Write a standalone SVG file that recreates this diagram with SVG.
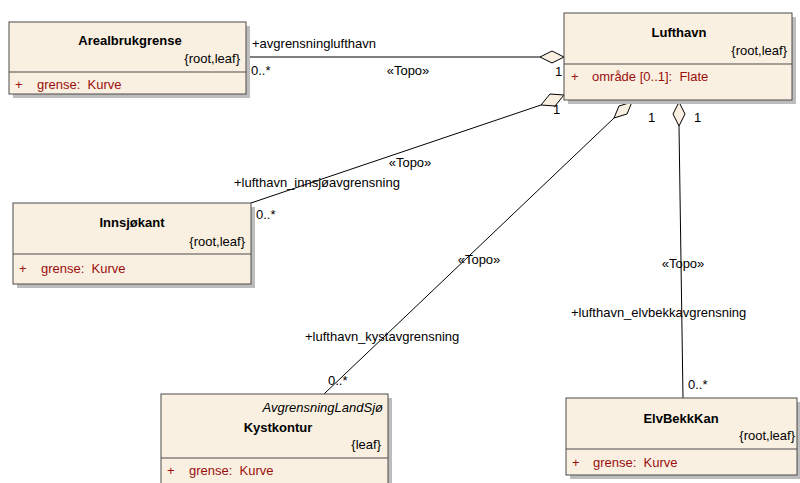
<svg xmlns="http://www.w3.org/2000/svg" width="800" height="483" viewBox="0 0 800 483" xml:space="preserve">
<style>
text{font-family:"Liberation Sans",Arial,sans-serif;font-size:13px;fill:#000;white-space:pre}
.t{font-weight:bold;text-anchor:middle}
.r{text-anchor:end}
.a{fill:#9B0E0E}
.i{font-style:italic}
.box{fill:#FAF0E1;stroke:#4A4A4A;stroke-width:1}
.sh{fill:#BDBDBD}
.ln{stroke:#000;stroke-width:1;fill:none}
.dv{stroke:#4A4A4A;stroke-width:1}
.dm{fill:#FAF0E1;stroke:#000;stroke-width:1}
</style>
<rect width="800" height="483" fill="#fff"/>
<g id="connectors">
  <line class="ln" x1="246" y1="57" x2="540" y2="57"/>
  <polygon class="dm" points="564,57 552,51 540,57 552,63"/>
  <text x="252" y="48">+avgrensninglufthavn</text>
  <text x="251" y="75">0..*</text>
  <text x="408" y="75" text-anchor="middle">«Topo»</text>
  <text x="555" y="76">1</text>

  <line class="ln" x1="251" y1="203" x2="541" y2="105"/>
  <polygon class="dm" points="564,95 550,94 541,105 555,106"/>
  <text x="410" y="167" text-anchor="middle">«Topo»</text>
  <text x="234" y="187">+lufthavn_innsjøavgrensning</text>
  <text x="256" y="219">0..*</text>
  <text x="553" y="114">1</text>

  <line class="ln" x1="324" y1="394" x2="614" y2="118"/>
  <polygon class="dm" points="632,102 619,106 614,118 627,114"/>
  <text x="479" y="264" text-anchor="middle">«Topo»</text>
  <text x="305" y="341">+lufthavn_kystavgrensning</text>
  <text x="328" y="385">0..*</text>
  <text x="648" y="122">1</text>

  <line class="ln" x1="679" y1="126" x2="683" y2="398"/>
  <polygon class="dm" points="679,102 685,114 679,126 673,114"/>
  <text x="683" y="268" text-anchor="middle">«Topo»</text>
  <text x="571" y="317">+lufthavn_elvbekkavgrensning</text>
  <text x="688" y="389">0..*</text>
  <text x="694" y="122">1</text>
</g>
<g id="Arealbrukgrense">
  <rect class="sh" x="13" y="26" width="237" height="72"/>
  <rect class="box" x="9" y="22" width="237" height="72"/>
  <line class="dv" x1="9" y1="72" x2="246" y2="72"/>
  <text class="t" x="130" y="45">Arealbrukgrense</text>
  <text class="r" x="240" y="63">{root,leaf}</text>
  <text class="a" x="15" y="89">+</text>
  <text class="a" x="37" y="89">grense:  Kurve</text>
</g>
<g id="Lufthavn">
  <rect class="sh" x="568" y="17" width="228" height="87"/>
  <rect class="box" x="564" y="13" width="228" height="87"/>
  <line class="dv" x1="564" y1="64" x2="792" y2="64"/>
  <text class="t" x="679" y="37">Lufthavn</text>
  <text class="r" x="787" y="55">{root,leaf}</text>
  <text class="a" x="571" y="81">+</text>
  <text class="a" x="592" y="81">område [0..1]:  Flate</text>
</g>
<g id="Innsjøkant">
  <rect class="sh" x="17" y="207" width="238" height="81"/>
  <rect class="box" x="13" y="203" width="238" height="81"/>
  <line class="dv" x1="13" y1="254" x2="251" y2="254"/>
  <text class="t" x="132" y="227">Innsjøkant</text>
  <text class="r" x="245" y="246">{root,leaf}</text>
  <text class="a" x="19" y="273">+</text>
  <text class="a" x="41" y="273">grense:  Kurve</text>
</g>
<g id="Kystkontur">
  <rect class="sh" x="165" y="398" width="227" height="90"/>
  <rect class="box" x="161" y="394" width="227" height="95"/>
  <line class="dv" x1="161" y1="458" x2="388" y2="458"/>
  <text class="r i" x="383" y="412">AvgrensningLandSjø</text>
  <text class="t" x="278" y="432">Kystkontur</text>
  <text class="r" x="381" y="449">{leaf}</text>
  <text class="a" x="167" y="475">+</text>
  <text class="a" x="189" y="475">grense:  Kurve</text>
</g>
<g id="ElvBekkKan">
  <rect class="sh" x="570" y="402" width="231" height="77"/>
  <rect class="box" x="566" y="398" width="231" height="77"/>
  <line class="dv" x1="566" y1="449" x2="797" y2="449"/>
  <text class="t" x="681" y="423">ElvBekkKan</text>
  <text class="r" x="795" y="440">{root,leaf}</text>
  <text class="a" x="572" y="467">+</text>
  <text class="a" x="593" y="467">grense:  Kurve</text>
</g>
</svg>
